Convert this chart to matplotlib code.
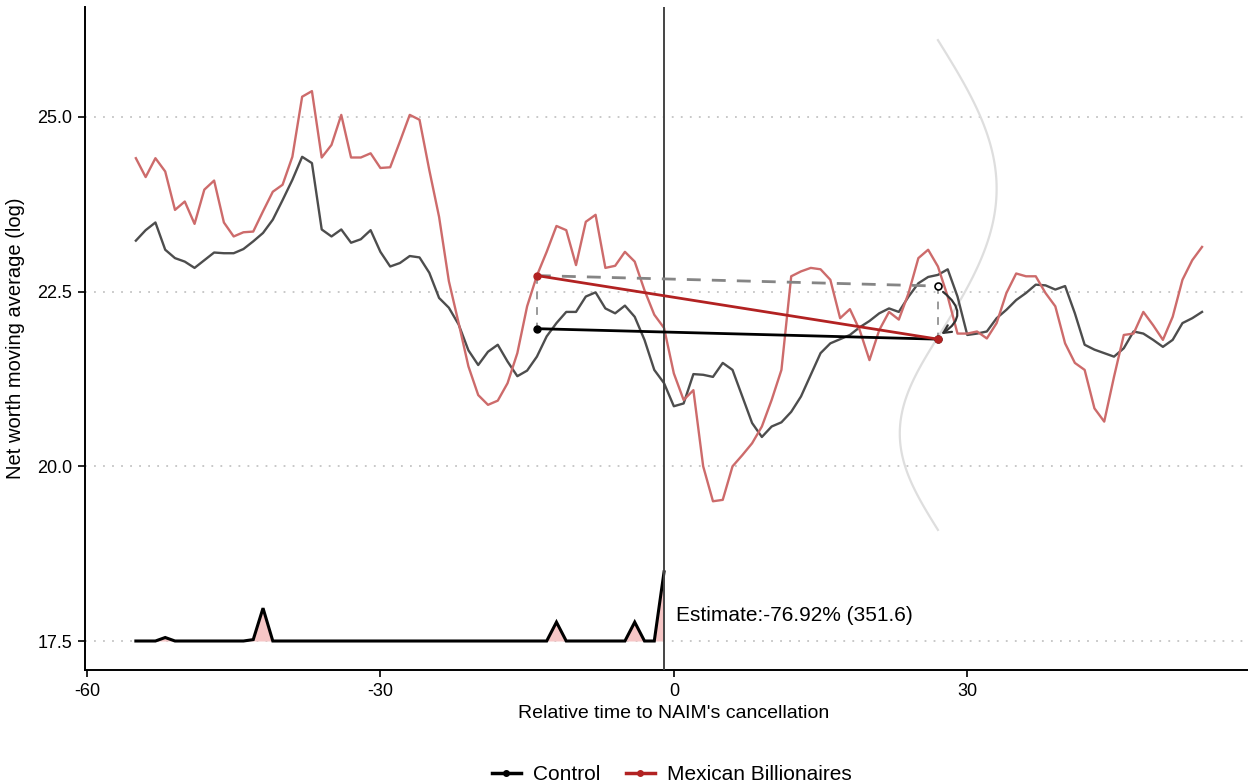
#!/usr/bin/env python3
# -*- coding: utf-8 -*-

"""
Net worth moving average: Mexican billionaires vs control around NAIM's cancellation
"""

import numpy as np
import matplotlib
matplotlib.use("Agg")
import matplotlib.pyplot as plt
from matplotlib.lines import Line2D
from matplotlib.patches import FancyArrowPatch

plt.rcParams['font.family'] = ['Liberation Sans', 'DejaVu Sans']

# relative time (days)
t = np.arange(-55, 55)

mexican = [24.41, 24.14, 24.41, 24.22, 23.67, 23.79, 23.47, 23.96, 24.09, 23.49,
           23.29, 23.35, 23.36, 23.65, 23.93, 24.03, 24.43, 25.29, 25.37, 24.42,
           24.60, 25.03, 24.42, 24.42, 24.48, 24.27, 24.28, 24.65, 25.03, 24.96,
           24.24, 23.57, 22.65, 22.05, 21.43, 21.02, 20.88, 20.94, 21.19, 21.62,
           22.29, 22.73, 23.07, 23.44, 23.38, 22.88, 23.50, 23.60, 22.84, 22.87,
           23.07, 22.93, 22.52, 22.17, 21.98, 21.33, 20.95, 21.09, 20.00, 19.50,
           19.52, 20.00, 20.16, 20.33, 20.57, 20.95, 21.38, 22.72, 22.79, 22.84,
           22.82, 22.67, 22.12, 22.25, 21.95, 21.52, 21.95, 22.21, 22.10, 22.48,
           22.98, 23.10, 22.86, 22.43, 21.90, 21.90, 21.93, 21.83, 22.05, 22.48,
           22.76, 22.72, 22.72, 22.48, 22.29, 21.76, 21.48, 21.38, 20.83, 20.64,
           21.28, 21.88, 21.90, 22.21, 22.02, 21.81, 22.14, 22.67, 22.95, 23.14]

control = [23.23, 23.38, 23.49, 23.10, 22.98, 22.93, 22.84, 22.95, 23.06, 23.05,
           23.05, 23.11, 23.22, 23.34, 23.53, 23.81, 24.10, 24.43, 24.34, 23.39,
           23.29, 23.39, 23.20, 23.25, 23.38, 23.07, 22.86, 22.91, 23.01, 22.99,
           22.77, 22.41, 22.27, 22.03, 21.66, 21.45, 21.64, 21.74, 21.50, 21.29,
           21.37, 21.57, 21.86, 22.05, 22.21, 22.21, 22.43, 22.49, 22.26, 22.19,
           22.30, 22.14, 21.81, 21.38, 21.19, 20.86, 20.90, 21.32, 21.31, 21.28,
           21.48, 21.38, 21.00, 20.62, 20.42, 20.57, 20.63, 20.78, 21.00, 21.31,
           21.62, 21.76, 21.82, 21.88, 21.99, 22.08, 22.19, 22.26, 22.21, 22.43,
           22.62, 22.71, 22.74, 22.82, 22.43, 21.88, 21.90, 21.93, 22.12, 22.24,
           22.38, 22.48, 22.60, 22.59, 22.53, 22.58, 22.19, 21.74, 21.67, 21.62,
           21.57, 21.69, 21.93, 21.90, 21.81, 21.71, 21.81, 22.05, 22.12, 22.21]

# small density strip at the bottom (time -55 .. -1)
dens_t = np.arange(-55, 0)
dens = np.zeros(len(dens_t))
dens_bumps = {-52: 0.05, -43: 0.02, -42: 0.47, -12: 0.27, -4: 0.27, -1: 0.99}
for k, v in dens_bumps.items():
    dens[k + 55] = v
dens_base = 17.5

# estimate annotation
t_pre, t_post = -14, 27
mex_pre, ctl_pre = 22.73, 21.97
post_val = 21.82
cf_val = mex_pre + (post_val - ctl_pre)
event_t = -1
estimate_label = "Estimate:-76.92% (351.6)"

# light grey guide curve around the post point
arc_top, arc_mid, arc_bot = 26.10, 21.85, 19.09
arc_right, arc_left = 6.0, 3.9

if __name__ == "__main__":
    fig = plt.figure(figsize=(12.48, 7.84), dpi=100)
    ax = fig.add_axes([85 / 1248, 1 - 670 / 784, 1163 / 1248, 663 / 784])

    for yv in [17.5, 20.0, 22.5, 25.0]:
        ax.axhline(yv, color='#c4c4c4', lw=1.3, ls=(0, (1, 4)), zorder=0)

    # guide curve
    s = np.linspace(0, 1, 100)
    ax.plot(t_post + arc_right * np.sin(np.pi * s), arc_mid + (arc_top - arc_mid) * s,
            color='#dedede', lw=1.6, zorder=1)
    ax.plot(t_post - arc_left * np.sin(np.pi * s), arc_mid - (arc_mid - arc_bot) * s,
            color='#dedede', lw=1.6, zorder=1)

    ax.plot(t, control, color='#4d4d4d', lw=1.7, zorder=3)
    ax.plot(t, mexican, color='#cd6b6b', lw=1.7, zorder=3)

    ax.axvline(event_t, color='#444444', lw=1.4, zorder=4)

    # density strip
    ax.fill_between(dens_t, dens_base, dens_base + dens, color='#f6c6c6', lw=0, zorder=2)
    ax.plot(dens_t, dens_base + dens, color='black', lw=2.2, zorder=3,
            solid_joinstyle='miter')

    # dashed counterfactual
    ax.plot([t_pre, t_post], [mex_pre, cf_val], color='#858585', lw=2.0,
            ls=(0, (5, 4)), zorder=4)
    ax.plot([t_pre, t_pre], [mex_pre, ctl_pre], color='#9a9a9a', lw=1.4,
            ls=(0, (4, 4)), zorder=4)
    ax.plot([t_post, t_post], [cf_val, post_val], color='#9a9a9a', lw=1.4,
            ls=(0, (4, 4)), zorder=4)

    # pre/post segments
    ax.plot([t_pre, t_post], [ctl_pre, post_val], color='black', lw=2.0,
            marker='o', ms=5, zorder=5)
    ax.plot([t_pre, t_post], [mex_pre, post_val], color='#b22222', lw=2.0,
            marker='o', ms=5, zorder=5)
    ax.plot([t_post], [cf_val], marker='o', ms=5, mfc='white', mec='black',
            mew=1.2, zorder=6)

    arrow = FancyArrowPatch((t_post + 0.3, cf_val - 0.06), (t_post + 0.1, post_val + 0.05),
                            connectionstyle='arc3,rad=-0.75', arrowstyle='->',
                            mutation_scale=14, color='#333333', lw=1.6, zorder=6)
    ax.add_patch(arrow)

    ax.text(0.2, 17.87, estimate_label, fontsize=15, va='center', ha='left')

    ax.set_xlim(-60.2, 58.7)
    ax.set_ylim(17.085, 26.574)
    ax.set_xticks([-60, -30, 0, 30])
    ax.set_xticklabels(['-60', '-30', '0', '30'])
    ax.set_yticks([17.5, 20.0, 22.5, 25.0])
    ax.set_yticklabels(['17.5', '20.0', '22.5', '25.0'])
    ax.tick_params(labelsize=13, length=5, width=1.2, pad=4, color='black')

    ax.set_xlabel("Relative time to NAIM's cancellation", fontsize=14)
    ax.set_ylabel('Net worth moving average (log)', fontsize=14.5)
    ax.xaxis.set_label_coords((674 - 85) / 1163, -0.053)
    ax.yaxis.set_label_coords(-0.052, 0.5)

    ax.spines['top'].set_visible(False)
    ax.spines['right'].set_visible(False)
    ax.spines['left'].set_linewidth(1.4)
    ax.spines['bottom'].set_linewidth(1.4)

    handles = [Line2D([], [], color='black', lw=2.5, marker='o', ms=4),
               Line2D([], [], color='#b22222', lw=2.5, marker='o', ms=4)]
    fig.legend(handles, ['Control', 'Mexican Billionaires'], loc='center',
               bbox_to_anchor=(672 / 1248, 1 - 775 / 784), ncol=2, frameon=False,
               fontsize=15, handlelength=1.4, handletextpad=0.6, columnspacing=1.2)

    plt.savefig('out.png', dpi=100)
